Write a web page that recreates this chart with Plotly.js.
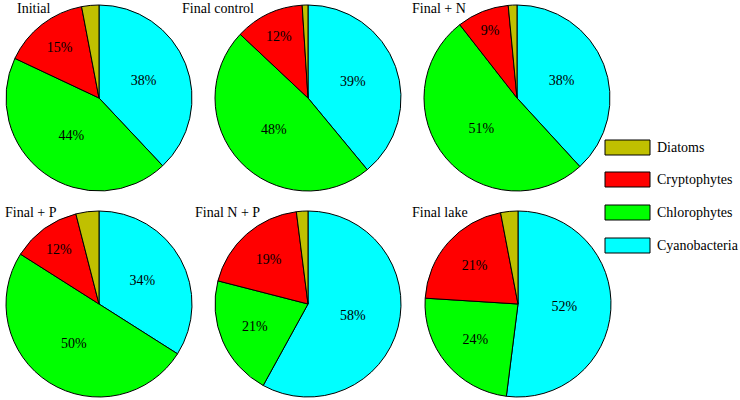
<!DOCTYPE html>
<html>
<head>
<meta charset="utf-8">
<script src="https://cdn.plot.ly/plotly-3.0.1.min.js"></script>
<style>html,body{margin:0;padding:0;background:#fff;}#chart{width:740px;height:400px;}</style>
</head>
<body>
<div id="chart"></div>
<script>
// Categories (clockwise from 12 o'clock)
const groups = ["Cyanobacteria", "Chlorophytes", "Cryptophytes", "Diatoms"];
const colors = ["#00FFFF", "#00FF00", "#FF0000", "#C0C000"];
const legendOrder = ["Diatoms", "Cryptophytes", "Chlorophytes", "Cyanobacteria"];
const panelTitles = ["Initial", "Final control", "Final + N", "Final + P", "Final N + P", "Final lake"];
// Percent values per panel: [Cyanobacteria, Chlorophytes, Cryptophytes, Diatoms]
const initial      = [38, 44, 15, 3];
const finalControl = [39, 48, 12, 1];
const finalN       = [38, 51, 9, 1.5];
const finalP       = [34, 50, 12, 4];
const finalNP      = [58, 21, 19, 2];
const finalLake    = [52, 24, 21, 3];
const panels = [initial, finalControl, finalN, finalP, finalNP, finalLake];

const W = 740, H = 400;
// pie boxes in pixels: [cx, cy, r]
const geom = [[99,98,93],[308,98,93],[517,98,93],[99,304,93],[308,304,93],[518,304,93]];
const titlePos = [[15,8],[180,8],[410,8],[3,212],[193,212],[410,212]];

const font = "Times New Roman, Liberation Serif, serif";
const data = panels.map((vals, i) => {
  const [cx, cy, r] = geom[i];
  return {
    type: "pie",
    labels: groups,
    values: vals,
    text: vals.map((v, k) => groups[k] === "Diatoms" ? "" : Math.round(v) + "%"),
    textinfo: "text",
    textposition: "inside",
    insidetextorientation: "horizontal",
    textfont: {family: font, size: 14, color: "#000"},
    sort: false,
    direction: "clockwise",
    rotation: 0,
    marker: {colors: colors, line: {color: "#000", width: 1}},
    hoverinfo: "none",
    showlegend: false,
    domain: {x: [(cx - r) / W, (cx + r) / W], y: [(H - cy - r) / H, (H - cy + r) / H]}
  };
});

const annotations = panelTitles.map((t, i) => ({
  text: t, xref: "paper", yref: "paper",
  x: titlePos[i][0] / W, y: 1 - titlePos[i][1] / H,
  xanchor: "left", yanchor: "middle", showarrow: false,
  font: {family: font, size: 14, color: "#000"}
}));
const shapes = [];
const legY = [147.5, 179.5, 212.5, 245.5];
legendOrder.forEach((g, k) => {
  const c = colors[groups.indexOf(g)];
  shapes.push({type: "rect", xref: "paper", yref: "paper",
    x0: 605 / W, x1: 650 / W, y0: 1 - (legY[k] - 7.5) / H, y1: 1 - (legY[k] + 7.5) / H,
    fillcolor: c, line: {color: "#000", width: 1}});
  annotations.push({text: g, xref: "paper", yref: "paper",
    x: 655 / W, y: 1 - legY[k] / H, xanchor: "left", yanchor: "middle", showarrow: false,
    font: {family: font, size: 14, color: "#000"}});
});

const layout = {
  width: W, height: H,
  margin: {l: 0, r: 0, t: 0, b: 0},
  paper_bgcolor: "#fff",
  showlegend: false,
  annotations: annotations,
  shapes: shapes,
  font: {family: font}
};
Plotly.newPlot("chart", data, layout, {displayModeBar: false, staticPlot: true});
</script>
</body>
</html>
